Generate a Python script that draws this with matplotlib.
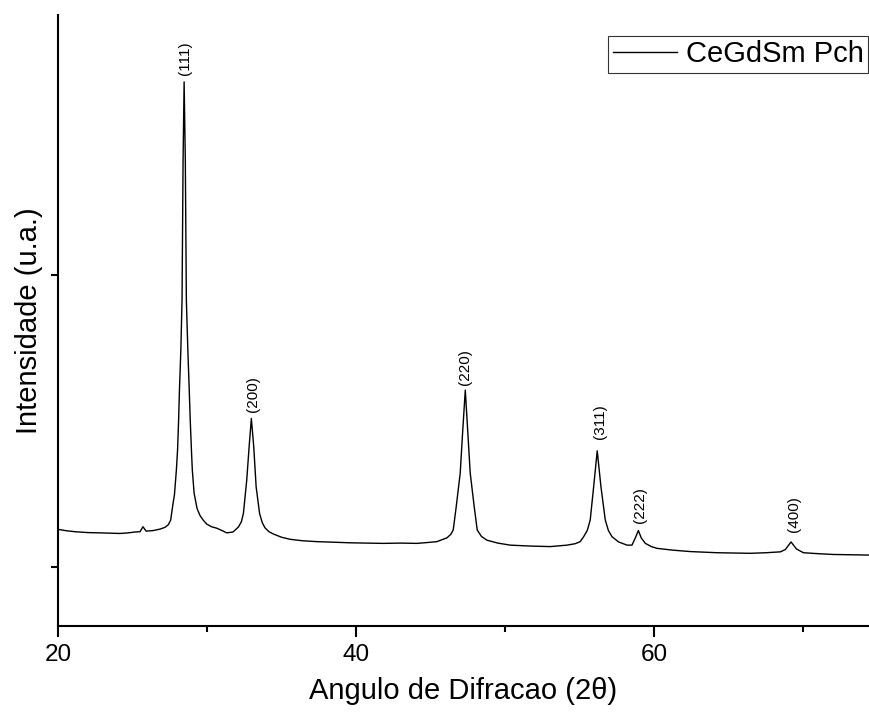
import numpy as np
import matplotlib
matplotlib.use("Agg")
import matplotlib.pyplot as plt

plt.rcParams["font.family"] = ["Liberation Sans", "DejaVu Sans"]

# ---- data (intensity in arbitrary units) ----
two_theta = [20.00, 20.60, 21.14, 22.00, 22.82, 23.50, 24.16, 24.70, 25.17, 25.50,
             25.70, 25.91, 26.40, 26.85, 27.18, 27.40,
             27.56, 27.72, 27.81, 27.94, 28.02, 28.09, 28.14, 28.24, 28.32, 28.39,
             28.46, 28.54, 28.61, 28.71, 28.81, 28.87, 28.95, 29.01, 29.13, 29.33,
             29.53, 29.75, 29.98, 30.30, 30.65, 31.00, 31.32, 31.74, 32.10, 32.30, 32.44,
             32.66, 32.82, 32.97,
             33.13, 33.29, 33.52, 33.70, 33.89, 34.15, 34.45, 35.00, 35.57, 36.40, 37.36,
             38.50, 39.60, 40.70, 41.81, 43.00, 44.07,
             44.80, 45.42, 46.09, 46.35, 46.51, 46.71, 46.98, 47.15, 47.32, 47.48, 47.65, 47.92,
             48.12, 48.40, 48.77, 49.50, 50.34, 51.60, 53.02, 54.14, 54.70, 55.03, 55.26,
             55.50, 55.70, 55.93, 56.17,
             56.42, 56.71, 56.92, 57.16, 57.60, 58.17, 58.50, 58.72, 58.93, 59.13, 59.40,
             59.80, 60.18, 61.20, 62.40, 63.30,
             64.21, 65.30, 66.44, 67.50, 68.46, 68.79, 69.17, 69.53, 70.00, 70.90, 72.01,
             73.20, 74.36]
intensity = [629, 624, 621, 618, 617, 616, 615, 617, 620, 621,
             638, 623, 625, 630, 636, 645,
             661, 719, 747, 832, 901, 1003, 1096, 1243, 1414, 1894,
             2162, 1894, 1414, 1243, 1096, 1003, 901, 832, 753, 700,
             676, 660, 647, 638, 633, 625, 617, 620, 637, 655, 685,
             798, 912, 1009,
             912, 775, 684, 652, 634, 621, 613, 602, 595, 590, 587,
             585, 583, 582, 581, 582, 581,
             584, 587, 600, 612, 627, 706, 822, 969, 1106, 969, 822, 706,
             627, 605, 592, 582, 575, 572, 570, 575, 580, 587, 604,
             625, 661, 775, 898,
             775, 661, 625, 604, 586, 575, 575, 599, 625, 599, 581,
             570, 564, 558, 553, 551,
             549, 548, 547, 549, 552, 560, 586, 562, 549, 546, 543,
             542, 541]

hkl = ["(111)", "(200)", "(220)", "(311)", "(222)", "(400)"]
hkl_x = [28.50, 33.09, 47.32, 56.38, 59.06, 69.35]
hkl_y = [2185, 1030, 1125, 940, 650, 620]

fig = plt.figure(figsize=(8.69, 7.14), dpi=100)
ax = fig.add_axes([58/869, 1 - 626/714, 1 - 58/869, (626 - 15)/714])

ax.plot(two_theta, intensity, color="black", lw=1.0, label="CeGdSm Pch")
for lab, lx, ly in zip(hkl, hkl_x, hkl_y):
    ax.text(lx, ly, lab, rotation=90, ha="center", va="bottom", fontsize=11)

ax.set_xlim(20, 74.4)
ax.set_ylim(298, 2391)
ax.set_xticks([20, 40, 60])
ax.set_xticks([30, 50, 70], minor=True)
ax.set_yticks([500, 1500])
ax.set_yticklabels([])
ax.tick_params(axis="x", which="major", direction="out", length=8, width=1.5,
               labelsize=17.5, pad=5)
ax.tick_params(axis="x", which="minor", direction="out", length=4.5, width=1.5)
ax.tick_params(axis="y", direction="out", length=5, width=1.5)
for s in ["top", "right"]:
    ax.spines[s].set_visible(False)
for s in ["left", "bottom"]:
    ax.spines[s].set_linewidth(1.5)

ax.set_xlabel("Angulo de Difracao (2θ)", fontsize=21, labelpad=8)
ax.set_ylabel("Intensidade (u.a.)", fontsize=21, labelpad=2)

leg = ax.legend(loc="upper right", bbox_to_anchor=(868/869, 1 - 36/714),
                bbox_transform=fig.transFigure, fontsize=21, frameon=True,
                fancybox=False, handlelength=2.2, handletextpad=0.3,
                borderpad=0.15, borderaxespad=0)
leg.get_frame().set_edgecolor("black")
leg.get_frame().set_linewidth(0.8)

fig.savefig("out.png", dpi=100)
